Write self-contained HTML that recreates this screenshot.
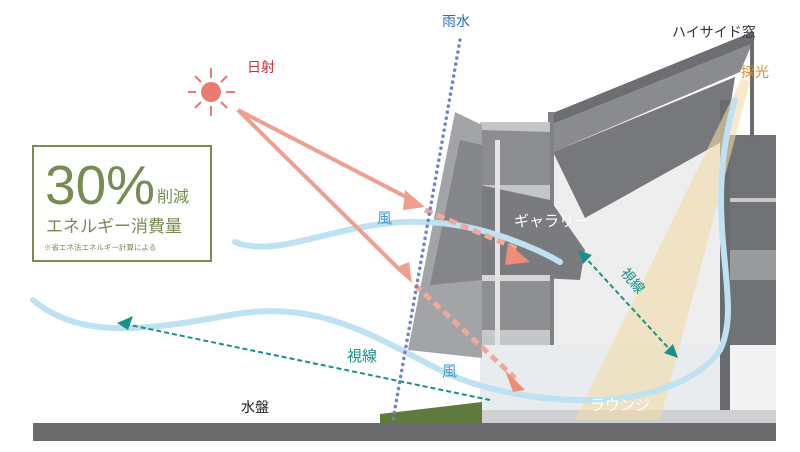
<!DOCTYPE html>
<html><head><meta charset="utf-8"><style>
html,body{margin:0;padding:0;background:#fff}
svg{display:block}
text{font-family:"Liberation Sans","Noto Sans CJK JP",sans-serif}
</style></head><body>
<svg width="800" height="452" viewBox="0 0 800 452" xmlns="http://www.w3.org/2000/svg">
<rect x="726" y="135" width="50" height="288" fill="#717275"/>
<rect x="726" y="198" width="50" height="4" fill="#c9c9c9"/>
<rect x="726" y="250" width="50" height="30" fill="#9a9b9d"/>
<rect x="726" y="345" width="50" height="65" fill="#f2f2f2"/>
<polygon points="553,150 728,80 728,345 553,345" fill="#eeeeef"/>
<polygon points="548,115 752,32 752,44 553,124" fill="#6d6e71"/>
<polygon points="553,124 752,44 740,72 553,152" fill="#8a8b8e"/>
<polygon points="553,152 735,77 725,140 585,218" fill="#77787b"/>
<rect x="548" y="112" width="6" height="240" fill="#808184"/>
<rect x="720" y="100" width="10" height="320" fill="#6a6b6e"/>
<rect x="750" y="32" width="4" height="105" fill="#6a6b6e"/>
<rect x="480" y="122" width="70" height="225" fill="#c4c5c7"/>
<polygon points="480,130 550,132 550,185 480,185" fill="#8c8d90"/>
<polygon points="480,185 550,200 585,250 580,280 480,275" fill="#7a7b7e"/>
<rect x="480" y="275" width="70" height="6" fill="#d6d6d6"/>
<rect x="480" y="281" width="70" height="50" fill="#8e8f92"/>
<rect x="480" y="330" width="70" height="6" fill="#c8c8c8"/>
<rect x="495" y="140" width="5" height="280" fill="#e4e4e4"/>
<rect x="480" y="345" width="240" height="66" fill="#e9ecee"/>
<rect x="480" y="410" width="296" height="13" fill="#cfd0d1"/>
<polygon points="455,112 482,125 482,358 408,350" fill="#a3a4a7"/>
<polygon points="460,140 482,145 482,280 430,285" fill="#85868a"/>
<polygon points="380,423 380,414 482,402 482,423" fill="#5f7a3c"/>
<rect x="33" y="423" width="743" height="18" fill="#6b6b6d"/>
<polygon points="742,78 750,82 660,420 575,420" fill="#f1dca8" opacity="0.6"/>
<g fill="none" stroke="#bfe2f2" stroke-width="6" stroke-linecap="round">
<path d="M235,242 C280,260 340,220 420,222 C480,222 540,250 560,262"/>
<path d="M33,300 C80,340 150,330 230,315 C320,298 380,340 440,370 C480,390 540,402 600,400 C650,398 700,380 720,350 C745,300 700,220 735,100"/>
</g>
<circle cx="211" cy="92" r="10" fill="#e87b72"/>
<g stroke="#e87b72" stroke-width="2">
<line x1="211" y1="68" x2="211" y2="78"/><line x1="211" y1="106" x2="211" y2="116"/>
<line x1="188" y1="92" x2="196" y2="92"/><line x1="226" y1="92" x2="235" y2="92"/>
<line x1="195" y1="76" x2="201" y2="82"/><line x1="221" y1="102" x2="227" y2="108"/>
<line x1="195" y1="108" x2="201" y2="102"/><line x1="221" y1="82" x2="227" y2="76"/>
</g>
<g stroke="#ef9f90" stroke-width="4" fill="#ef9f90">
<line x1="238" y1="110" x2="412" y2="200"/>
<line x1="238" y1="110" x2="402" y2="272"/>
</g>
<polygon points="425,207 405,190 403,210" fill="#ef9f90"/>
<polygon points="412,283 395,268 409,262" fill="#ef9f90"/>
<g stroke="#f0a898" stroke-width="5" stroke-dasharray="8 5" fill="none">
<line x1="425" y1="210" x2="520" y2="250"/>
<line x1="415" y1="285" x2="515" y2="378"/>
</g>
<polygon points="530,262 508,243 505,265" fill="#ee8e78"/>
<polygon points="525,390 505,370 513,392" fill="#ee8e78"/>
<line x1="460" y1="40" x2="393" y2="420" stroke="#6f84c8" stroke-width="3.5" stroke-dasharray="0.1 6" stroke-linecap="round"/>
<g stroke="#17918a" stroke-width="2" stroke-dasharray="5 3" fill="none">
<line x1="125" y1="324" x2="490" y2="400"/>
<line x1="583" y1="255" x2="672" y2="352"/>
</g>
<polygon points="117,323 133,316 128,330" fill="#17918a"/>
<polygon points="578,250 592,255 583,264" fill="#17918a"/>
<polygon points="678,358 664,353 673,344" fill="#17918a"/>
<rect x="33" y="146" width="178" height="115" fill="none" stroke="#778b52" stroke-width="2"/>
<text x="45" y="204" font-size="55" fill="#778b52">30%</text>
<text x="157" y="202" font-size="16" fill="#778b52">削減</text>
<text x="46" y="232" font-size="17" fill="#778b52">エネルギー消費量</text>
<text x="44" y="250" font-size="7.5" fill="#778b52">※省エネ法エネルギー計算による</text>
<text x="247" y="72" font-size="14" fill="#c8303a">日射</text>
<text x="442" y="26" font-size="14" fill="#2a6fb8">雨水</text>
<text x="377" y="223" font-size="15" fill="#3a9ad2">風</text>
<text x="442" y="376" font-size="15" fill="#3a9ad2">風</text>
<text x="347" y="361" font-size="15" fill="#17918a">視線</text>
<text x="610" y="275" font-size="14" fill="#17918a" transform="rotate(50 617 285)">視線</text>
<text x="241" y="412" font-size="14" fill="#222">水盤</text>
<text x="514" y="226" font-size="15" fill="#fff">ギャラリー</text>
<text x="590" y="410" font-size="15" fill="#fff">ラウンジ</text>
<text x="672" y="37" font-size="14" fill="#333">ハイサイド窓</text>
<text x="741" y="77" font-size="14" fill="#e2872e">採光</text>
</svg>
</body></html>
